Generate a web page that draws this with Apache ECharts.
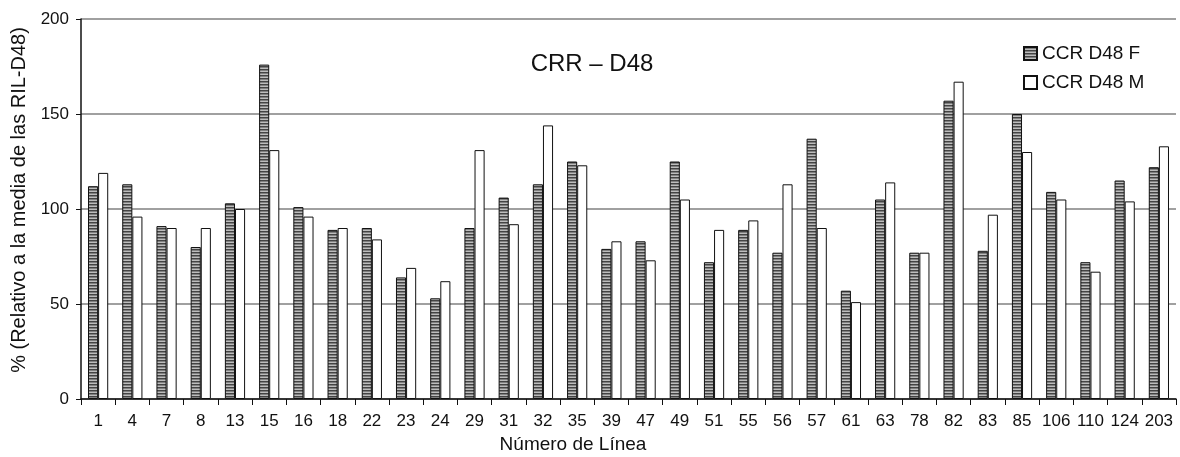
<!DOCTYPE html>
<html>
<head>
<meta charset="utf-8">
<script src="https://cdn.jsdelivr.net/npm/echarts@6/dist/echarts.min.js"></script>
<style>
html,body{margin:0;padding:0;background:#fff;}
#chart{width:1180px;height:457px;}
</style>
</head>
<body>
<div id="chart"></div>
<script>
const categories = ['1','4','7','8','13','15','16','18','22','23','24','29','31','32','35','39','47','49','51','55','56','57','61','63','78','82','83','85','106','110','124','203'];
const seriesF = [112,113,91,80,103,176,101,89,90,64,53,90,106,113,125,79,83,125,72,89,77,137,57,105,77,157,78,150,109,72,115,122];
const seriesM = [119,96,90,90,100,131,96,90,84,69,62,131,92,144,123,83,73,105,89,94,113,90,51,114,77,167,97,130,105,67,104,133];
const yTicks = [0,50,100,150,200];

function stripePattern(){
  const c = document.createElement('canvas');
  c.width = 4; c.height = 3;
  const ctx = c.getContext('2d');
  ctx.fillStyle = '#bdbdbd'; ctx.fillRect(0,0,4,3);
  ctx.fillStyle = '#444444'; ctx.fillRect(0,0,4,1.5);
  return c;
}
const pat = stripePattern();

const chart = echarts.init(document.getElementById('chart'));
const font = 'Liberation Sans, Arial, sans-serif';
chart.setOption({
  backgroundColor: '#ffffff',
  animation: false,
  title: [
    {text: 'CRR \u2013 D48', left: 587, top: 47, textAlign: 'center',
     textStyle: {fontFamily: font, fontSize: 24, fontWeight: 'normal', color: '#111'}},
    {text: 'Número de Línea', left: 568, top: 430, textAlign: 'center',
     textStyle: {fontFamily: font, fontSize: 19, fontWeight: 'normal', color: '#111'}}
  ],
  legend: {
    orient: 'vertical', left: 1018, top: 39, icon: 'rect', itemWidth: 13, itemHeight: 13, itemGap: 10,
    textStyle: {fontFamily: font, fontSize: 19, color: '#111'},
    data: ['CCR D48 F', 'CCR D48 M']
  },
  grid: {left: 81, right: 4, top: 19, bottom: 58, containLabel: false, outerBoundsMode: 'none'},
  xAxis: {
    type: 'category', data: categories, boundaryGap: true,
    axisLine: {lineStyle: {color: '#111', width: 1.5}},
    axisTick: {show: true, alignWithLabel: false, length: 6, lineStyle: {color: '#111'}},
    axisLabel: {fontFamily: font, fontSize: 17, color: '#111', margin: 14, interval: 0},
    splitLine: {show: false}
  },
  yAxis: {
    type: 'value', min: yTicks[0], max: yTicks[yTicks.length-1], interval: 50,
    name: '% (Relativo a la media de las RIL-D48)', nameLocation: 'middle', nameGap: 51,
    nameTextStyle: {fontFamily: font, fontSize: 20, color: '#111', padding: [0,0,0,18]},
    axisLine: {show: true, lineStyle: {color: '#111', width: 1.5}},
    axisTick: {show: true, length: 5, lineStyle: {color: '#111'}},
    axisLabel: {fontFamily: font, fontSize: 17, color: '#111', margin: 12},
    splitLine: {show: true, lineStyle: {color: '#808080', width: 1.5}}
  },
  series: [
    {name: 'CCR D48 F', type: 'bar', data: seriesF, barGap: '0%', barCategoryGap: '41%',
     itemStyle: {color: {image: pat, repeat: 'repeat'}, borderColor: '#111', borderWidth: 1}},
    {name: 'CCR D48 M', type: 'bar', data: seriesM,
     itemStyle: {color: '#ffffff', borderColor: '#111', borderWidth: 1}}
  ]
});
</script>
</body>
</html>
